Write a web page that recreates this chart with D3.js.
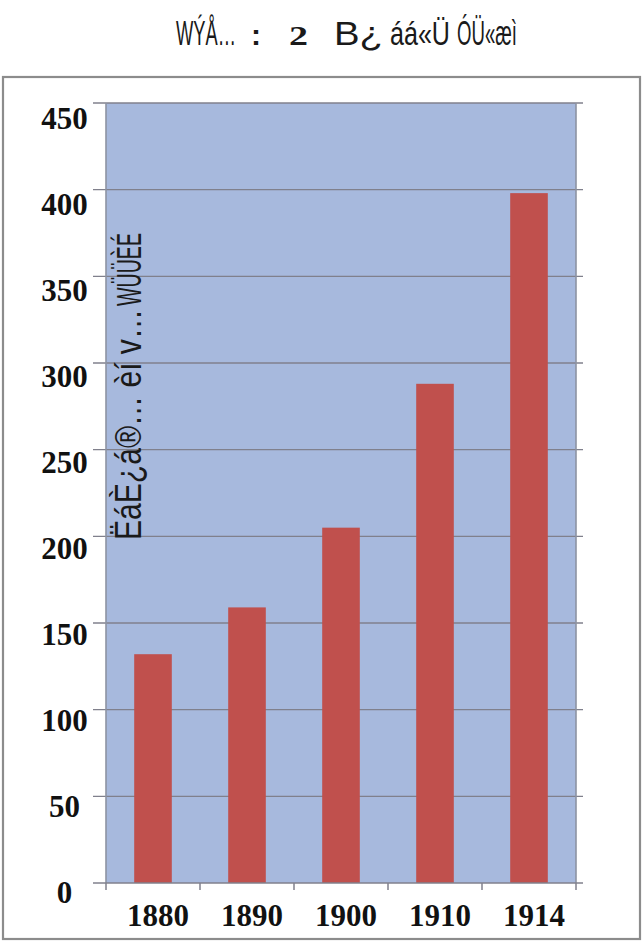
<!DOCTYPE html>
<html>
<head>
<meta charset="utf-8">
<script src="https://cdn.jsdelivr.net/npm/d3@7"></script>
<style>
  html, body { margin: 0; padding: 0; background: #ffffff; }
  svg { display: block; }
</style>
</head>
<body>
<script>
// ---- data ----
const categories = ["1880", "1890", "1900", "1910", "1914"];
const values = [132, 159, 205, 288, 398];
const yTicks = [0, 50, 100, 150, 200, 250, 300, 350, 400, 450];
const yTickLabels = ["0", "50", "100", "150", "200", "250", "300", "350", "400", "450"];
const titleParts = ["WÝÅ…", ":", "2", "B¿", "áá«Ü", "ÓÜ«æì"];
const yTitleParts = ["ËáÈ¿á®… èí v…", "WÜÜÈÉ"];

const W = 644, H = 944;
const svg = d3.select("body").append("svg").attr("width", W).attr("height", H);

// outer frame
svg.append("rect").attr("x", 3).attr("y", 77).attr("width", 637).attr("height", 862)
  .attr("fill", "#ffffff").attr("stroke", "#8c8c8c").attr("stroke-width", 2.2);

const plot = { left: 106, right: 576, top: 103, bottom: 883 };

const x = d3.scaleBand().domain(categories).range([plot.left, plot.right])
  .paddingInner(0.6).paddingOuter(0.3);
const y = d3.scaleLinear().domain([0, 450]).range([plot.bottom, plot.top]);

// plot background
svg.append("rect").attr("x", plot.left).attr("y", plot.top)
  .attr("width", plot.right - plot.left).attr("height", plot.bottom - plot.top)
  .attr("fill", "#a7b9dd");

// gridlines
svg.append("g").selectAll("line").data(yTicks.filter(d => d > 0)).join("line")
  .attr("x1", plot.left - 13).attr("x2", plot.right + 7)
  .attr("y1", d => y(d)).attr("y2", d => y(d))
  .attr("stroke", "#80808c").attr("stroke-width", 1.4);

// plot side borders
[plot.left, plot.right].forEach(xx => {
  svg.append("line").attr("x1", xx).attr("x2", xx)
    .attr("y1", plot.top).attr("y2", plot.bottom)
    .attr("stroke", "#8d93a3").attr("stroke-width", 1.6);
});

// bars
svg.append("g").selectAll("rect").data(values).join("rect")
  .attr("x", (d, i) => x(categories[i]))
  .attr("y", d => y(d))
  .attr("width", x.bandwidth())
  .attr("height", d => y(0) - y(d))
  .attr("fill", "#c0504d");

// x axis line + ticks
svg.append("line").attr("x1", plot.left - 13).attr("x2", plot.right + 7)
  .attr("y1", y(0)).attr("y2", y(0))
  .attr("stroke", "#80808c").attr("stroke-width", 1.5);
const tickXs = [plot.left]
  .concat(categories.slice(1).map(c => x(c) - (x.step() - x.bandwidth()) / 2))
  .concat([plot.right]);
svg.append("g").selectAll("line").data(tickXs).join("line")
  .attr("x1", d => d).attr("x2", d => d)
  .attr("y1", y(0)).attr("y2", y(0) + 7)
  .attr("stroke", "#80808c").attr("stroke-width", 1.5);

// x labels
svg.append("g").selectAll("text").data(categories).join("text")
  .attr("x", d => x(d) + x.bandwidth() / 2 + 5)
  .attr("y", 926)
  .attr("text-anchor", "middle")
  .attr("font-family", "'Liberation Serif', 'Times New Roman', serif")
  .attr("font-weight", "bold")
  .attr("font-size", 31)
  .attr("fill", "#111")
  .text(d => d);

// y labels
svg.append("g").selectAll("text").data(yTicks).join("text")
  .attr("x", 64.5)
  .attr("y", d => y(d) + 20 + 6 * d / 450)
  .attr("text-anchor", "middle")
  .attr("font-family", "'Liberation Serif', 'Times New Roman', serif")
  .attr("font-weight", "bold")
  .attr("font-size", 31)
  .attr("fill", "#111")
  .text((d, i) => yTickLabels[i]);

// helper: text squeezed horizontally to a target length via scale transform
const sans = "'Liberation Sans', Arial, sans-serif";
const serif = "'Liberation Serif', 'Times New Roman', serif";
function fitted(parent, txt, x0, y0, len, font, size, weight) {
  const g = parent.append("g");
  const t = g.append("text").attr("x", 0).attr("y", 0)
    .attr("font-family", font).attr("font-size", size)
    .attr("font-weight", weight || "normal").attr("fill", "#1a1a1a").text(txt);
  let sx = 1;
  if (len) {
    const w = t.node().getComputedTextLength();
    if (w > 0) sx = len / w;
  }
  g.attr("transform", `translate(${x0},${y0}) scale(${sx},1)`);
  return g;
}

// y title (rotated)
const yt = svg.append("g").attr("transform", "translate(141,540) rotate(-90)");
fitted(yt, yTitleParts[0], 0, 0, 231, sans, 36);
fitted(yt, yTitleParts[1], 234, 0, 73, sans, 36);

// title pieces
const tBase = 45;
fitted(svg, titleParts[0], 176, tBase, 60, sans, 36);
fitted(svg, titleParts[1], 251, tBase, null, sans, 30, "bold");
fitted(svg, titleParts[2], 289, tBase, 19, serif, 28, "bold");
fitted(svg, titleParts[3], 334, tBase, 49, sans, 34);
fitted(svg, titleParts[4], 390, tBase, 60, sans, 34);
fitted(svg, titleParts[5], 457, tBase, 60, sans, 36);
</script>
</body>
</html>
